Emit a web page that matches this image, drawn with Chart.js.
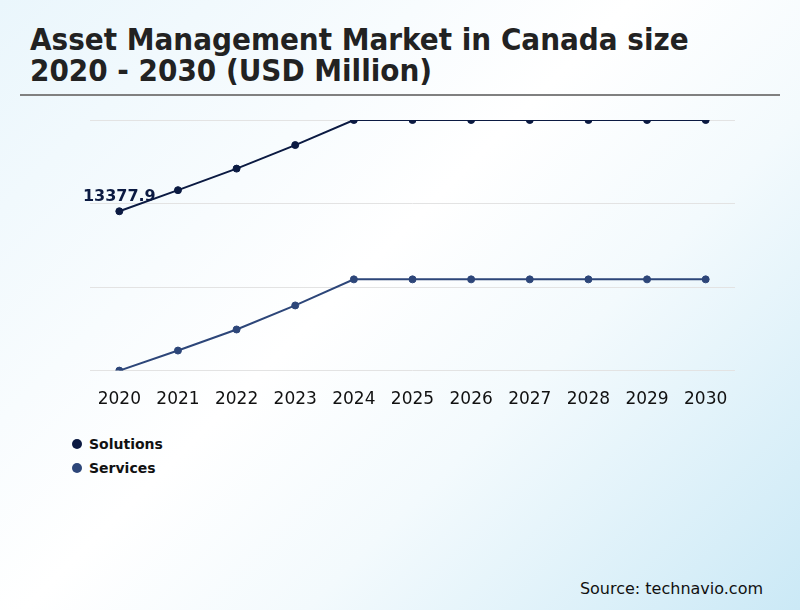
<!DOCTYPE html>
<html>
<head>
<meta charset="utf-8">
<script src="https://cdn.jsdelivr.net/npm/chart.js@4/dist/chart.umd.min.js"></script>
<style>
  html, body { margin: 0; padding: 0; }
  body {
    width: 800px; height: 610px; position: relative; overflow: hidden;
    background: linear-gradient(135deg, #eaf6fc 0%, #ffffff 45%, #f3fafd 65%, #cbe9f6 100%);
    font-family: "DejaVu Sans", sans-serif;
  }
  #title {
    position: absolute; left: 30px; top: 24px; margin: 0;
    font-family: "DejaVu Sans Condensed", "DejaVu Sans", sans-serif;
    font-weight: bold; font-size: 31px; line-height: 31px; color: #222;
  }
  #rule { position: absolute; left: 20px; top: 94px; width: 760px; height: 2px; background: #808080; }
  #wrap { position: absolute; left: 0; top: 105px; width: 800px; height: 316px; }
  #legend { position: absolute; left: 72px; top: 432px; font-weight: bold; font-size: 14px; color: #111; }
  #legend div { height: 24px; line-height: 20px; display: flex; align-items: center; }
  #legend span.dot { display: inline-block; width: 10px; height: 10px; border-radius: 50%; margin-right: 7px; }
  #source { position: absolute; right: 37px; top: 579px; font-size: 16px; color: #111; }
</style>
</head>
<body>
<h1 id="title">Asset Management Market in Canada size<br>2020 - 2030 (USD Million)</h1>
<div id="rule"></div>
<div id="wrap"><canvas id="chart"></canvas></div>
<div id="legend"></div>
<div id="source">Source: technavio.com</div>
<script>
const years = ["2020", "2021", "2022", "2023", "2024", "2025", "2026", "2027", "2028", "2029", "2030"];
const solutions = [13377.9, 13984, 14603, 15280, 16000, 16000, 16000, 16000, 16000, 16000, 16000];
const services = [8800, 9376, 9981, 10672, 11421, 11421, 11421, 11421, 11421, 11421, 11421];
const seriesNames = ["Solutions", "Services"];
const seriesColors = ["#0b1a42", "#2d4679"];

// value label on the first Solutions point
const firstLabel = {
  id: "firstLabel",
  afterDatasetsDraw(chart) {
    const pt = chart.getDatasetMeta(0).data[0];
    const ctx = chart.ctx;
    ctx.save();
    ctx.font = "bold 16px 'DejaVu Sans', sans-serif";
    ctx.fillStyle = seriesColors[0];
    ctx.textAlign = "center";
    ctx.textBaseline = "bottom";
    ctx.fillText(solutions[0].toFixed(1), pt.x, pt.y - 6);
    ctx.restore();
  }
};

const chart = new Chart(document.getElementById("chart"), {
  type: "line",
  data: {
    labels: years,
    datasets: [
      { label: seriesNames[0], data: solutions, borderColor: seriesColors[0], backgroundColor: seriesColors[0] },
      { label: seriesNames[1], data: services, borderColor: seriesColors[1], backgroundColor: seriesColors[1] }
    ]
  },
  options: {
    responsive: true,
    maintainAspectRatio: false,
    animation: false,
    layout: { padding: { left: 90, right: 65, top: 15, bottom: 0 } },
    elements: {
      line: { borderWidth: 2, tension: 0 },
      point: { radius: 3.5, hoverRadius: 4 }
    },
    plugins: { legend: { display: false }, tooltip: { enabled: false } },
    scales: {
      x: {
        offset: true,
        grid: { display: false },
        border: { display: false },
        ticks: { color: "#111", font: { size: 17, family: "DejaVu Sans" }, padding: 11, maxRotation: 0 }
      },
      y: {
        min: 8800, max: 16000,
        ticks: { display: false, stepSize: 2400 },
        border: { display: false },
        grid: { color: "#e3e3e3", lineWidth: 1, drawTicks: false }
      }
    }
  },
  plugins: [firstLabel]
});

document.getElementById("legend").innerHTML = chart.data.datasets.map(d =>
  `<div><span class="dot" style="background:${d.borderColor}"></span>${d.label}</div>`
).join("");
</script>
</body>
</html>
